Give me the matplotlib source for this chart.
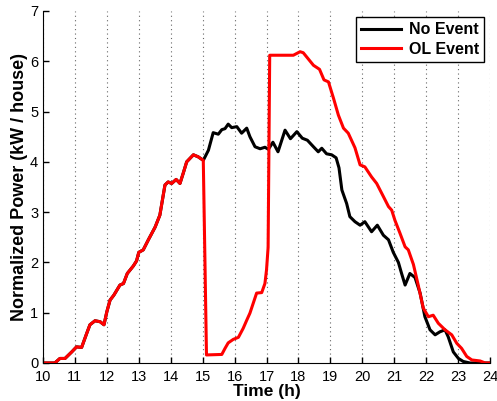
import numpy as np
import matplotlib
matplotlib.use("Agg")
import matplotlib.pyplot as plt

plt.rcParams['font.family'] = ['Liberation Sans', 'DejaVu Sans']

# shared part of both curves (before the event starts)
common_t = [10.0, 10.37, 10.53, 10.69, 10.9, 11.05, 11.21, 11.37, 11.47, 11.63,
            11.79, 11.91, 12.0, 12.1, 12.22, 12.41, 12.52, 12.64, 12.83, 12.93,
            13.0, 13.14, 13.3, 13.51, 13.66, 13.82, 13.92, 14.03, 14.17, 14.29,
            14.39, 14.5, 14.71, 14.86, 15.02]
common_p = [0.0, 0.0, 0.09, 0.09, 0.22, 0.32, 0.31, 0.59, 0.76, 0.84,
            0.82, 0.76, 1.02, 1.25, 1.35, 1.55, 1.58, 1.78, 1.93, 2.03,
            2.2, 2.25, 2.45, 2.7, 2.94, 3.54, 3.6, 3.57, 3.65, 3.57,
            3.77, 4.0, 4.14, 4.1, 4.03]

# no event, after 15h
noev_t = [15.18, 15.33, 15.49, 15.6, 15.7, 15.8, 15.91, 16.07, 16.22, 16.38,
          16.48, 16.64, 16.8, 16.95, 17.06, 17.2, 17.36, 17.58, 17.75, 17.95,
          18.12, 18.28, 18.47, 18.62, 18.73, 18.88, 19.04, 19.18, 19.27, 19.36,
          19.51, 19.61, 19.77, 19.93, 20.08, 20.29, 20.47, 20.66, 20.82, 20.97,
          21.13, 21.23, 21.34, 21.49, 21.65, 21.81, 21.96, 22.12, 22.28, 22.43,
          22.59, 22.69, 22.85, 23.01, 23.16, 23.37, 24.0]
noev_p = [4.23, 4.58, 4.55, 4.64, 4.66, 4.75, 4.68, 4.7, 4.57, 4.67,
          4.5, 4.3, 4.26, 4.29, 4.25, 4.39, 4.2, 4.63, 4.46, 4.6,
          4.47, 4.43, 4.3, 4.2, 4.27, 4.16, 4.14, 4.08, 3.88, 3.44,
          3.17, 2.91, 2.81, 2.74, 2.81, 2.61, 2.74, 2.54, 2.45, 2.2,
          2.0, 1.78, 1.55, 1.78, 1.7, 1.39, 0.92, 0.66, 0.56, 0.62,
          0.66, 0.52, 0.22, 0.09, 0.03, 0.0, 0.0]

# OL event, after 15h
ol_t = [15.12, 15.6, 15.7, 15.8, 15.96, 16.12, 16.27, 16.38, 16.48, 16.69,
        16.85, 16.95, 17.0, 17.05, 17.1, 17.84, 18.05, 18.15, 18.47, 18.66,
        18.8, 18.94, 19.1, 19.25, 19.41, 19.56, 19.77, 19.93, 20.08, 20.29,
        20.45, 20.66, 20.82, 20.92, 21.02, 21.18, 21.34, 21.44, 21.6, 21.75,
        21.91, 22.07, 22.22, 22.38, 22.59, 22.8, 22.96, 23.11, 23.27, 23.43,
        23.69, 23.85, 24.0]
ol_p = [0.16, 0.17, 0.29, 0.4, 0.47, 0.51, 0.69, 0.85, 0.99, 1.39,
        1.4, 1.58, 1.85, 2.3, 6.12, 6.12, 6.19, 6.17, 5.92, 5.84,
        5.63, 5.59, 5.26, 4.93, 4.67, 4.57, 4.28, 3.94, 3.9, 3.7,
        3.57, 3.31, 3.11, 3.04, 2.84, 2.58, 2.31, 2.25, 1.96, 1.55,
        1.09, 0.92, 0.95, 0.79, 0.66, 0.56, 0.39, 0.29, 0.13, 0.06,
        0.04, 0.0, 0.0]

x_ticks = list(range(10, 25))
y_ticks = list(range(0, 8))

fig = plt.figure(figsize=(4.97, 4.01), dpi=100)
ax = fig.add_axes([0.0865, 0.0948, 0.8995, 0.8778])

ax.plot(common_t + noev_t, common_p + noev_p, color='black', lw=2.2, label='No Event')
ax.plot(common_t + ol_t, common_p + ol_p, color='red', lw=2.2, label='OL Event')

ax.set_xlim(10, 24)
ax.set_ylim(0, 7)
ax.set_xticks(x_ticks)
ax.set_yticks(y_ticks)
ax.tick_params(direction='in', length=4, labelsize=10.5, width=1)
ax.tick_params(axis='x', pad=5)
ax.xaxis.grid(True, linestyle=(0, (1, 3)), color='#666666', lw=0.8)
for s in ['top', 'right']:
    ax.spines[s].set_visible(False)

ax.set_xlabel('Time (h)', fontsize=12.5, fontweight='bold', labelpad=0)
ax.set_ylabel('Normalized Power (kW / house)', fontsize=13, fontweight='bold', labelpad=1)

leg = ax.legend(loc='upper right', prop={'weight': 'bold', 'size': 11.5},
                fancybox=False, framealpha=1, edgecolor='black',
                handlelength=2.5, borderaxespad=0.4, borderpad=0.3,
                labelspacing=0.3, handletextpad=0.5)
leg.get_frame().set_linewidth(1)

fig.savefig('out.png', dpi=100)
